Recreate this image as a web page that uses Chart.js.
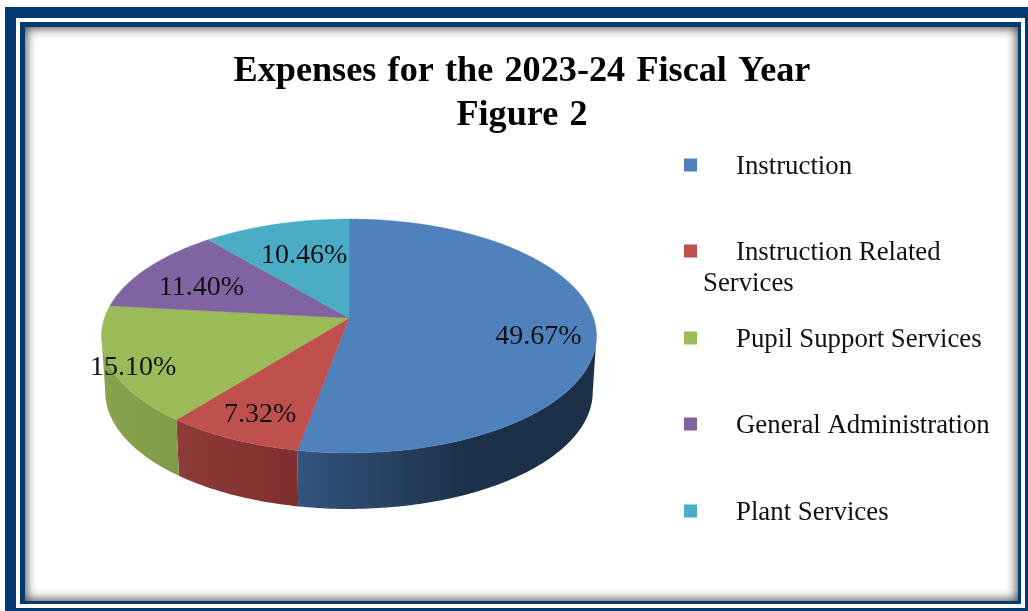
<!DOCTYPE html>
<html>
<head>
<meta charset="utf-8">
<style>
html,body{margin:0;padding:0;background:#fff;width:1028px;height:611px;overflow:hidden}
.b{position:absolute;box-sizing:border-box}
#f1{left:5px;top:7px;width:1023px;height:604px;background:#003a70;}
#f2{left:16px;top:18px;width:1009px;height:590px;background:#fff;}
#f3{left:20px;top:22px;width:1001px;height:582px;background:#003a70;}
#f4{left:25px;top:27px;width:993px;height:574px;background:#fff;box-shadow:inset 0 0 11px 1px #3c3c3c;}
canvas{position:absolute;left:0;top:0;filter:blur(0.35px)}
</style>
</head>
<body>
<div class="b" id="f1"></div><div class="b" id="f2"></div><div class="b" id="f3"></div><div class="b" id="f4"></div>
<canvas id="c" width="1028" height="611" style="width:1028px;height:611px"></canvas>
<script src="https://cdn.jsdelivr.net/npm/chart.js@4"></script>
<script>
const categories = ['Instruction', 'Instruction Related Services', 'Pupil Support Services', 'General Administration', 'Plant Services'];
const expenseShares = [49.67, 7.32, 15.10, 11.40, 10.46];
const titleLines = ['Expenses for the 2023-24 Fiscal Year', 'Figure 2'];
const topColors = ['#4F81BD', '#C0504D', '#9BBB59', '#8064A2', '#4BACC6'];
const wallColors = [['#33557e', '#1d3049'], ['#8e3b39', '#7e2f2d'], ['#87a34e', '#7f9b49'], ['#66508a', '#66508a'], ['#3c8a9e', '#3c8a9e']];
const labelRadius = [0.77, 0.785, 0.905, 0.72, 0.58];
const labelShiftY = [11, 5, 8, 6, -5];
const legendRowY = [167, 253, 340, 426, 513];

const SERIF = '"Liberation Serif"';
const view = {cx: 349, cy: 318, R: 244.5, c: -0.154, b: 65.2, depth: 56, lowerScale: 0.985};

function project(u, v) {
  const w = 1 + view.c * v;
  return [view.cx + view.R * u / w, (view.cy + view.b * v) / w];
}
// Chart.js angles: -PI/2 is the top of the pie, increasing clockwise
function rim(angle) { return project(Math.cos(angle), Math.sin(angle)); }
function lower(p) { return [view.cx + (p[0] - view.cx) * view.lowerScale, p[1] + view.depth]; }

const pie3d = {
  id: 'pie3d',
  beforeDraw(chart) {
    chart.ctx.wordSpacing = '2.2px';
  },
  beforeDatasetsDraw(chart) {
    const ctx = chart.ctx;
    ctx.wordSpacing = '0px';
    const arcs = chart.getDatasetMeta(0).data;
    const samples = (a) => {
      const n = Math.max(8, Math.ceil((a.endAngle - a.startAngle) * 60));
      const pts = [];
      for (let i = 0; i <= n; i++) pts.push(rim(a.startAngle + (a.endAngle - a.startAngle) * i / n));
      return pts;
    };
    // walls: front-facing rim steps only, all gathered in a single path per slice
    arcs.forEach((a, i) => {
      const pts = samples(a);
      ctx.beginPath();
      let minX = Infinity, maxX = -Infinity;
      for (let k = 0; k < pts.length - 1; k++) {
        const p = pts[k], r = pts[k + 1];
        if (r[0] >= p[0]) continue;
        const q = lower(p), s = lower(r);
        minX = Math.min(minX, r[0]); maxX = Math.max(maxX, p[0]);
        ctx.moveTo(p[0], p[1]); ctx.lineTo(r[0], r[1]); ctx.lineTo(s[0], s[1]); ctx.lineTo(q[0], q[1]);
        ctx.closePath();
      }
      if (minX === Infinity) return;
      const g = ctx.createLinearGradient(minX, 0, i === 0 ? minX + 170 : maxX, 0);
      g.addColorStop(0, wallColors[i][0]); g.addColorStop(1, wallColors[i][1]);
      ctx.fillStyle = g;
      ctx.fill();
    });
    // top faces
    arcs.forEach((a, i) => {
      const apex = project(0, 0);
      ctx.beginPath();
      ctx.moveTo(apex[0], apex[1]);
      samples(a).forEach(p => ctx.lineTo(p[0], p[1]));
      ctx.closePath();
      ctx.fillStyle = topColors[i];
      ctx.strokeStyle = topColors[i];
      ctx.lineWidth = 0.5;
      ctx.fill();
      ctx.stroke();
    });
    // value labels
    ctx.fillStyle = '#111';
    ctx.font = '28px ' + SERIF;
    ctx.textAlign = 'center';
    ctx.textBaseline = 'middle';
    arcs.forEach((a, i) => {
      const mid = (a.startAngle + a.endAngle) / 2;
      const p = project(Math.cos(mid) * labelRadius[i], Math.sin(mid) * labelRadius[i]);
      ctx.fillText(expenseShares[i].toFixed(2) + '%', p[0], p[1] + labelShiftY[i]);
    });
    return false;
  },
  afterDraw(chart) {
    const ctx = chart.ctx;
    ctx.save();
    ctx.font = '26.8px ' + SERIF;
    ctx.textAlign = 'left';
    ctx.textBaseline = 'middle';
    categories.forEach((name, i) => {
      const y = legendRowY[i];
      ctx.fillStyle = topColors[i];
      ctx.fillRect(684, y - 8.5, 13, 13);
      ctx.fillStyle = '#111';
      if (name === 'Instruction Related Services') {
        ctx.fillText('Instruction Related', 736, y);
        ctx.fillText('Services', 703, y + 31);
      } else {
        ctx.fillText(name, 736, y);
      }
    });
    ctx.restore();
  }
};

new Chart(document.getElementById('c'), {
  type: 'pie',
  data: {labels: categories, datasets: [{data: expenseShares, backgroundColor: topColors, borderWidth: 0}]},
  options: {
    responsive: false,
    animation: false,
    layout: {padding: {left: 16}},
    plugins: {
      legend: {display: false},
      tooltip: {enabled: false},
      title: {
        display: true,
        text: titleLines,
        color: '#000',
        align: 'center',
        font: {family: SERIF, size: 36.2, weight: 'bold', lineHeight: 44 / 36.2},
        padding: {top: 50, bottom: 10}
      }
    }
  },
  plugins: [pie3d]
});
</script>
</body>
</html>
